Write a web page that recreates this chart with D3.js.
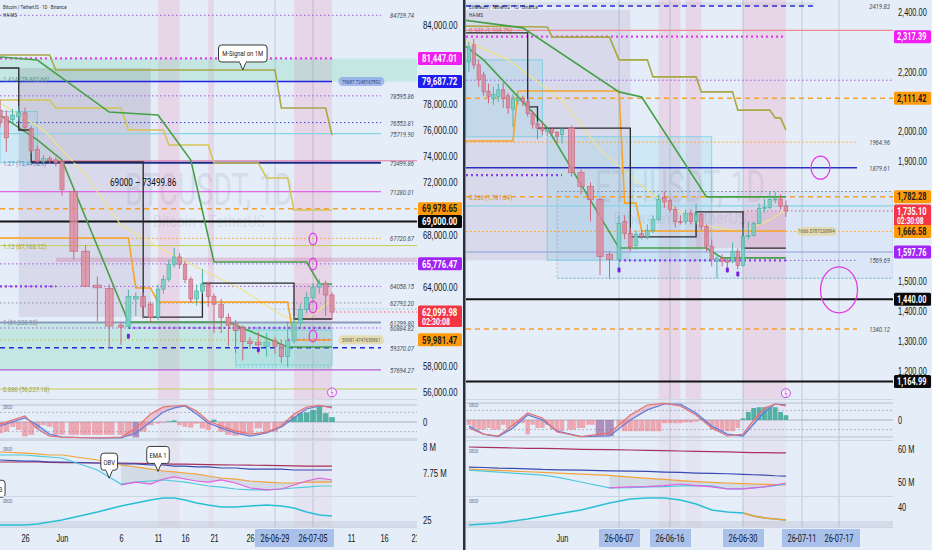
<!DOCTYPE html>
<html>
<head>
<meta charset="utf-8">
<title>BTCUSDT / ETHUSDT 1D</title>
<script src="https://cdn.jsdelivr.net/npm/d3@7"></script>
<style>
  body { margin: 0; background: #e4edf8; }
  svg { display: block; font-family: Roboto, "Noto Sans", sans-serif; }
</style>
</head>
<body>
<svg id="chart" width="932" height="550"></svg>
<script>
// ---------- BTCUSDT (left) ----------
// date, open, high, low, close
var btcCandles = [
  ["05-22", 77500, 78300, 76200, 76550], ["05-23", 77000, 77500, 74300, 75400],
  ["05-24", 76800, 77600, 76500, 77100], ["05-25", 77000, 77800, 76700, 77300],
  ["05-26", 77300, 77700, 76000, 76200], ["05-27", 76100, 76300, 74200, 74400],
  ["05-28", 74500, 74800, 73300, 73600], ["05-29", 73600, 74100, 73300, 73800],
  ["05-30", 73800, 74000, 73400, 73650], ["05-31", 73700, 73900, 73200, 73500],
  ["06-01", 73580, 73700, 71000, 71450], ["06-02", 71300, 71400, 66100, 66740],
  ["06-03", 66740, 67200, 64000, 64070], ["06-04", 64150, 64800, 61400, 63950],
  ["06-05", 63900, 64200, 59300, 61030], ["06-06", 61100, 61300, 59600, 60950],
  ["06-07", 61000, 63800, 60800, 63300], ["06-08", 63100, 63600, 61800, 63300],
  ["06-09", 63300, 63600, 61600, 62500], ["06-10", 62700, 62900, 61300, 61700],
  ["06-11", 61700, 64200, 61500, 63850], ["06-12", 63850, 64900, 63500, 64600],
  ["06-13", 64600, 66100, 64400, 65750], ["06-14", 65750, 67000, 65500, 66300],
  ["06-15", 66300, 66600, 65400, 65750], ["06-16", 65750, 66000, 64300, 64600],
  ["06-17", 64600, 64800, 62800, 63100], ["06-18", 63100, 64200, 62600, 63700],
  ["06-19", 63700, 65400, 63500, 64200], ["06-20", 64200, 64400, 62500, 63300],
  ["06-21", 63300, 63500, 60500, 62700], ["06-22", 62700, 63100, 60500, 61700],
  ["06-23", 61700, 62000, 59500, 61100], ["06-24", 61200, 61500, 59000, 60700],
  ["06-25", 60900, 61100, 58400, 59850], ["06-26", 59850, 60200, 59300, 59700],
  ["06-27", 59800, 60600, 58900, 59600], ["06-28", 59500, 60500, 58700, 59800],
  ["06-29", 59900, 60200, 58900, 59500], ["06-30", 59600, 60000, 58200, 58700],
  ["07-01", 58700, 61400, 57900, 59900], ["07-02", 59900, 61800, 59700, 61300],
  ["07-03", 61300, 62700, 61000, 62300], ["07-04", 62300, 63600, 62000, 63200],
  ["07-05", 63200, 64300, 62900, 64000], ["07-06", 64000, 64600, 63500, 64300],
  ["07-07", 64300, 64500, 61800, 63400], ["07-08", 63400, 63600, 61500, 62099.98]
];
var btcGreenA = [["05-22", 81560], ["05-28", 81330], ["06-05", 77360], ["06-11", 77130], ["06-17", 73700], ["06-21", 65920], ["07-04", 65920], ["07-06", 64240], ["07-08", 64240]];
var btcGreenB = [["05-22", 77130], ["05-28", 75230], ["06-01", 73700], ["06-07", 61340], ["06-23", 61340], ["07-01", 59430], ["07-08", 59430]];
var btcMsignal = [["05-22", 81710], ["05-30", 81710], ["05-31", 80570], ["06-29", 80570], ["06-30", 77670], ["07-07", 77670], ["07-08", 75600]];
var btcGold = [["05-22", 78280], ["05-30", 78280], ["05-31", 77670], ["06-06", 77670], ["06-07", 75990], ["06-12", 75990], ["06-13", 74840], ["06-20", 74840], ["06-21", 73470], ["06-27", 73470], ["06-28", 72330], ["07-01", 72330], ["07-02", 69880], ["07-08", 69880]];
var btcOrange = [["05-22", 67750], ["06-07", 67750], ["06-08", 63930], ["06-10", 63930], ["06-11", 62860], ["07-01", 62860], ["07-02", 59970], ["07-08", 59970]];
var btcHaMs = [["05-22", 80720], ["05-25", 80720], ["05-25", 75990], ["05-27", 75990], ["05-27", 73550], ["06-09", 73550], ["06-09", 61720], ["06-19", 61720], ["06-19", 64310], ["07-02", 64310], ["07-02", 61570], ["07-08", 61570]];
var btcEma = [["05-22", 78050], ["05-29", 75990], ["06-03", 72555], ["06-06", 68740], ["06-12", 66830], ["06-19", 65305], ["06-25", 63780], ["06-30", 61870], ["07-03", 61340], ["07-06", 62255], ["07-08", 63020]];
// value, kind, right label, from, to
var btcLevels = [
  [84739.74, "purpleDot", "84739.74", null, null], [81447.01, "magentaPlus", "", null, "07-08"],
  [79687.72, "blue", "", null, "07-08"], [78595.86, "purpleDot", "78595.86", null, null],
  [76553.81, "blueDot", "76553.81", null, null], [75719.90, "cyan", "75719.90", null, null],
  [73640, "pink", "", "05-27", null], [73499.86, "navy", "73499.86", "05-27", null],
  [71280.01, "magenta", "71280.01", null, null], [69978.65, "orangeDash", "", null, null],
  [69000.00, "black", "", null, null], [67720.67, "orangeDot", "67720.67", null, null],
  [67168.12, "olive", "", null, null], [65776.47, "purpleDot", "", null, null],
  [64058.15, "purpleDot", "64058.15", null, null], [64058.15, "purplePlus", "", null, "05-31"],
  [62793.20, "greyDot", "62793.20", null, null], [62330, "cyanDot", "", "06-29", null],
  [62099.98, "redDot", "", "07-08", null], [61299.80, "slate", "61299.80", null, null],
  [60884.82, "purpleDot", "60884.82", null, null], [60884.82, "purplePlus", "", "06-07", "07-08"],
  [59981.47, "oliveDot", "", null, "07-08"], [59981.47, "magentaPlus", "", "07-01", "07-08"],
  [59370.07, "navyDash", "59370.07", null, null], [57900, "cyanDot", "", "06-24", "07-08"],
  [57694.27, "purple", "57694.27", null, null], [56227.18, "olive", "", null, null]
];
var btcFibs = [["1.414 (79,902.66)", 79902.66, "teal"], ["1.27 (73,449.21)", 73449.21, "steel"], ["1.13 (67,168.12)", 67168.12, "olive"], ["1 (61,338.93)", 61338.93, "slate"], ["0.886 (56,227.18)", 56227.18, "olive"]];
var btcTags = [[81447.01, "magenta"], [79687.72, "blue"], [69978.65, "orange"], [69000.00, "black"], [65776.47, "purple"], [62099.98, "red", "02:30:08"], [59981.47, "orange"]];
var btcPills = [[79687.72, "79687.7248167892", "07-09", "blue"], [59981.47, "59981.4747659861", "07-09", "beige"]];
var btcBoxes = [
  ["05-25", "06-10", 80720, 61720, "mauve"], ["05-25", "06-10", 80720, 73550, "grey"],
  [null, null, 81447.01, 79687.72, "green"], [null, "07-08", 61339, 57677, "green"],
  ["06-24", "07-08", 60730, 58060, "cyan"], [null, "05-28", 77400, 73500, "cyan"],
  ["07-02", "07-08", 64310, 61570, "pink"], ["05-31", null, 66250, 65920, "pinkBar"]
];
var btcBands = [["06-11", "06-15"], ["06-20", "06-21"], ["07-02", "07-08"]];
var btcCircles = [["07-05", 67670, "small"], ["07-05", 65760, "small"], ["07-05", 62480, "small"], ["07-05", 60270, "small"]];
var btcMarks = [["06-07", 60250], ["06-27", 59250]];
var btcBolt = ["07-08", 55970];
var btcCallouts = [["M-Signal on 1M", "06-25", 80567]];
var btcRangeLabel = ["69000 – 73499.86", "06-09", 71720];
var btcTimeTicks = ["05-26", "06-01", "06-06", "06-11", "06-16", "06-21", "06-26", "07-11", "07-16", "07-21"];
var btcHighlights = [["06-29", "07-05"]];
// indicators
var btcIndDates = ["05-22", "05-26", "05-28", "05-30", "06-01", "06-04", "06-06", "06-08", "06-10", "06-12", "06-14", "06-16", "06-18", "06-20", "06-22", "06-24", "06-26", "06-28", "06-30", "07-02", "07-04", "07-06", "07-08"];
var btcMacdFast = [-0.13, 0.38, -0.44, -0.88, -0.94, -1.0, -0.94, -0.38, 0.5, 0.94, 1.0, 1.04, 0.69, 0.06, -0.25, -0.56, -0.75, -0.63, -0.25, 0.5, 0.94, 1.04, 0.88];
var btcMacdSlow = [-0.25, 0.25, -0.19, -0.75, -0.94, -1.0, -1.0, -0.69, 0.0, 0.63, 0.88, 1.0, 0.5, -0.06, -0.38, -0.69, -0.88, -0.69, -0.31, 0.25, 0.81, 1.0, 0.94];
var btcHist = [-0.7, -0.6, -0.3, -0.5, -0.9, -0.8, -0.4, -0.2, -0.3, -0.8,
  -0.8, -0.8, -0.8, -0.8, -0.8, -0.8, -0.9, -0.96, -0.6, -0.2,
  -0.1, -0.05, 0.05, 0.1, -0.2, -0.3, -0.35, -0.1, -0.4, -0.5,
  0.15, -0.6, -0.8, -0.85, -0.8, -0.7, -0.4, -0.6, -0.6, -0.3,
  0.1, 0.35, 0.55, 0.6, 0.75, 0.95, 0.55, 0.3];
var btcObvNavy = [7.875, 7.865, 7.865, 7.856, 7.856, 7.846, 7.837, 7.837, 7.827, 7.827, 7.817, 7.817, 7.808, 7.808, 7.798, 7.798, 7.788, 7.788, 7.788, 7.779, 7.779, 7.779, 7.779];
var btcObvMaroon = [7.856, 7.856, 7.856, 7.852, 7.85, 7.846, 7.846, 7.842, 7.84, 7.838, 7.836, 7.835, 7.833, 7.831, 7.829, 7.827, 7.825, 7.823, 7.821, 7.819, 7.817, 7.817, 7.817];
var btcObvOrange = [7.952, 7.942, 7.933, 7.923, 7.923, 7.875, 7.827, 7.808, 7.788, 7.769, 7.76, 7.75, 7.74, 7.721, 7.702, 7.692, 7.673, 7.663, 7.654, 7.654, 7.663, 7.663, 7.663];
var btcObvCyan = [7.923, 7.923, 7.913, 7.904, 7.894, 7.779, 7.644, 7.663, 7.673, 7.683, 7.673, 7.663, 7.644, 7.625, 7.615, 7.596, 7.587, 7.587, 7.596, 7.606, 7.615, 7.625, 7.625];
var btcObvMagenta = [7.635, 7.663, 7.644, 7.692, 7.712, 7.692, 7.673, 7.663, 7.683, 7.654, 7.606, 7.587, 7.596, 7.635, 7.673, 7.702, 7.683];
var btcLower = [23, 23, 23.4, 24.2, 25, 28.2, 30.6, 31.8, 33, 33.8, 33.8, 33, 31.8, 31, 30.2, 30.2, 30.6, 31, 30.6, 29.8, 28.2, 27, 26.6];
var btcIndCallouts = [["OBV", "06-05", 7.70], ["EMA 1", "06-11", 7.765], ["EMA 3", "05-21", 7.44]];

// ---------- ETHUSDT (right) ----------
var ethCandles = [
  ["05-13", 2233, 2300, 2200, 2283], ["05-14", 2290, 2310, 2210, 2223], ["05-15", 2223, 2240, 2150, 2173],
  ["05-16", 2190, 2200, 2120, 2133], ["05-17", 2135, 2160, 2095, 2118], ["05-18", 2110, 2150, 2090, 2125],
  ["05-19", 2118, 2160, 2100, 2140], ["05-20", 2140, 2165, 2080, 2110], ["05-21", 2120, 2130, 2060, 2080],
  ["05-22", 2075, 2125, 2015, 2110], ["05-23", 2105, 2125, 2090, 2112], ["05-24", 2112, 2120, 2085, 2100],
  ["05-25", 2100, 2110, 2050, 2060], ["05-26", 2060, 2070, 2010, 2025], ["05-27", 2025, 2035, 1975, 2012],
  ["05-28", 2012, 2030, 1990, 2005], ["05-29", 2000, 2015, 1985, 2008], ["05-30", 2008, 2012, 1990, 1998],
  ["05-31", 1998, 2003, 1960, 1985], ["06-01", 1990, 2015, 1960, 2008], ["06-02", 2013, 2020, 1850, 1863],
  ["06-03", 1863, 1875, 1790, 1817], ["06-04", 1817, 1830, 1700, 1773], ["06-05", 1773, 1780, 1520, 1583],
  ["06-06", 1590, 1600, 1507, 1573], ["06-07", 1573, 1720, 1540, 1693], ["06-08", 1700, 1720, 1640, 1660],
  ["06-09", 1660, 1680, 1600, 1615], ["06-10", 1620, 1670, 1605, 1657], ["06-11", 1660, 1672, 1640, 1650],
  ["06-12", 1650, 1690, 1640, 1670], ["06-13", 1670, 1720, 1660, 1707], ["06-14", 1707, 1790, 1700, 1773],
  ["06-15", 1780, 1800, 1745, 1765], ["06-16", 1770, 1780, 1730, 1740], ["06-17", 1740, 1750, 1680, 1700],
  ["06-18", 1700, 1720, 1690, 1697], ["06-19", 1700, 1740, 1690, 1727], ["06-20", 1727, 1740, 1690, 1700],
  ["06-21", 1700, 1760, 1690, 1723], ["06-22", 1723, 1730, 1670, 1683], ["06-23", 1683, 1690, 1600, 1617],
  ["06-24", 1617, 1640, 1550, 1573], ["06-25", 1567, 1590, 1510, 1577], ["06-26", 1577, 1590, 1550, 1567],
  ["06-27", 1570, 1580, 1545, 1563], ["06-28", 1567, 1630, 1560, 1600], ["06-29", 1600, 1610, 1540, 1553],
  ["06-30", 1553, 1680, 1550, 1650], ["07-01", 1650, 1700, 1640, 1653], ["07-02", 1653, 1700, 1650, 1693],
  ["07-03", 1693, 1760, 1690, 1743], ["07-04", 1743, 1775, 1730, 1747], ["07-05", 1747, 1800, 1740, 1773],
  ["07-06", 1773, 1800, 1760, 1775], ["07-07", 1775, 1790, 1740, 1750], ["07-08", 1752, 1770, 1715, 1735.10]
];
var ethGreenA = [["05-12", 2373], ["05-24", 2347], ["06-07", 2133], ["06-11", 2116], ["06-23", 1782], ["07-08", 1782]];
var ethGreenB = [["05-12", 2290], ["05-16", 2240], ["05-29", 2012], ["06-07", 1611], ["06-23", 1611], ["06-26", 1578], ["07-08", 1578]];
var ethMsignal = [["05-12", 2353], ["05-29", 2350], ["05-30", 2316], ["06-06", 2316], ["06-07", 2240], ["06-12", 2240], ["06-13", 2183], ["06-21", 2183], ["06-22", 2133], ["06-28", 2133], ["06-29", 2072], ["07-05", 2072], ["07-06", 2046], ["07-07", 2046], ["07-08", 2006]];
var ethOrange = [["05-12", 1969], ["05-22", 1969], ["05-23", 2136], ["06-07", 2136], ["06-08", 1761], ["06-10", 1761], ["06-11", 1668], ["07-08", 1668]];
var ethHaMs = [["05-12", 2330], ["05-25", 2330], ["05-25", 2083], ["05-27", 2083], ["05-27", 2012], ["06-09", 2012], ["06-09", 1648], ["06-21", 1648], ["06-21", 1732], ["06-30", 1732], ["06-30", 1611], ["07-08", 1611]];
var ethEma = [["05-12", 2306], ["05-21", 2240], ["06-01", 2106], ["06-05", 1939], ["06-13", 1788], ["06-22", 1688], ["06-30", 1665], ["07-05", 1705], ["07-08", 1738]];
var ethLevels = [
  [2419.83, "navyDash", "2419.83", null, "07-13"], [2338.79, "salmon", "", null, null],
  [2317.39, "magentaPlus", "", null, "07-08"], [2172, "purpleDot", "", null, null],
  [2111.42, "orangeDash", "", null, null], [1964.96, "orangeDot", "1964.96", null, null],
  [1879.61, "navyThin", "1879.61", null, null], [1855, "purplePlus", "", null, "06-01"],
  [1800, "greyDot", "", "05-31", null], [1782.28, "orangeDash", "", null, null],
  [1752, "cyan", "", null, null], [1735.10, "redDot", "", "06-30", null],
  [1666.58, "orangeDot", "", null, null], [1597.76, "lavender", "", null, null],
  [1569.69, "purpleDot", "1569.69", "07-08", null], [1569.69, "purplePlus", "", "06-07", "07-08"],
  [1510, "cyanDot", "", "05-31", null], [1440.00, "black", "", null, null],
  [1340.12, "orangeDash", "1340.12", null, null], [1164.99, "black", "", null, null]
];
var ethFibs = [["0.382 (2,338.79)", 2338.79, "salmon"], ["0.236 (1,781.84)", 1781.84, "amber"]];
var ethTags = [[2317.39, "magenta"], [2111.42, "orange"], [1782.28, "orange"], [1735.10, "red", "02:30:08"], [1666.58, "orange"], [1597.76, "purple"], [1440.00, "black"], [1164.99, "black"]];
var ethPills = [[1666.58, "1666.5787230894", "07-10", "beige"]];
var ethBoxes = [
  [null, "06-09", 2407, 1570, "mauve"], [null, "05-28", 2240, 1983, "cyan"],
  ["05-29", "06-24", 1983, 1570, "cyan"], ["05-31", null, 1800, 1510, "sky"],
  ["06-21", "07-08", 1732, 1611, "pink"], [null, "07-13", 2432, 2421, "grey"]
];
var ethBands = [["06-14", "06-18"], ["06-19", "06-22"], ["06-30", "07-08"]];
var ethCircles = [["07-14", 1879.61, "mid"], ["07-17", 1471, "big"]];
var ethMarks = [["06-07", 1538], ["06-27", 1538], ["06-29", 1524]];
var ethBolt = ["07-08", 1126];
var ethTimeTicks = ["06-01"];
var ethHighlights = [["06-07"], ["06-16"], ["06-30"], ["07-11", "07-17"]];
var ethIndDates = ["05-13", "05-16", "05-19", "05-22", "05-25", "05-28", "05-31", "06-03", "06-06", "06-09", "06-12", "06-15", "06-18", "06-21", "06-24", "06-27", "06-30", "07-02", "07-04", "07-06", "07-08"];
var ethMacdFast = [-0.5, -0.88, -1.0, -0.31, 0.44, 0.13, -0.75, -1.04, -0.81, 0.31, 0.94, 1.04, 0.88, 0.31, -0.5, -1.0, -0.88, 0, 0.75, 1.0, 0.88];
var ethMacdSlow = [-0.38, -0.88, -1.04, -0.5, 0.31, 0, -0.69, -1.04, -1.0, 0, 0.63, 1.0, 1.0, 0.44, -0.38, -0.88, -1.0, -0.25, 0.5, 1.0, 0.94];
var ethHist = [-0.3, -0.5, -0.6, -0.6, -0.5, -0.6, -0.6, -0.3, -0.5, -0.4, -0.2, -0.2, -0.9, -0.3, -0.5, -0.5, -0.3, -0.6, -0.7,
  -0.7, -0.6, -0.5, -0.3, -1.0, -1.0, -0.3, -0.7, -0.7, -0.7, -0.7, -0.7, -0.7, -0.7, -0.2, -0.2, -0.2, -0.2, -0.15, -0.15,
  -0.1, 0.05, -0.2, -0.6, -0.7, -0.7, -0.7, -0.7, -0.5, 0.1,
  0.5, 0.75, 0.8, 0.8, 0.8, 0.8, 0.5, 0.3];
var ethObvMaroon = [60.6, 60.5, 60.4, 60.3, 60.2, 60.2, 60.1, 59.9, 59.8, 59.7, 59.6, 59.5, 59.4, 59.3, 59.2, 59.1, 59.0, 58.9, 58.9, 58.8, 58.8];
var ethObvNavy = [54.5, 54.4, 54.2, 54.1, 54.0, 53.8, 53.7, 53.6, 53.4, 53.3, 53.2, 53.0, 52.9, 52.7, 52.6, 52.5, 52.3, 52.2, 52.1, 51.9, 51.8];
var ethObvOrange = [53.9, 53.7, 53.5, 53.3, 53.1, 52.9, 52.7, 52.4, 52.0, 51.5, 51.1, 50.8, 50.4, 50.1, 49.9, 49.7, 49.5, 49.4, 49.3, 49.2, 49.1];
var ethObvCyan = [53.6, 53.3, 53.0, 52.7, 52.4, 52.1, 51.5, 50.0, 48.2, 48.3, 48.5, 48.6, 48.8, 48.9, 48.8, 47.9, 47.9, 48.2, 48.5, 48.9, 49.4];
var ethObvMagenta = [48.2, 48.5, 48.6, 48.9, 49.4, 48.9, 48.5, 47.9, 47.9, 48.2, 48.5, 49.1, 49.7];
var ethLower = [32.8, 33.2, 33.6, 34.4, 35.2, 36.2, 37.2, 38.8, 41.6, 43.2, 43.6, 43.6, 42.8, 41.2, 38.8, 38.0, 37.6, 36.4, 35.6, 35.2, 34.8];

// ---------- styles ----------
var lineKinds = {
  purpleDot: { c: "#9a5fd8", w: 1, d: "1.5,2.5" }, purplePlus: { c: "#8e3ff0", w: 2.2, d: "2,3" },
  magentaPlus: { c: "#e23ef0", w: 2.2, d: "2,3" }, blue: { c: "#2323e8", w: 1.6 },
  blueDot: { c: "#3347c8", w: 1, d: "1.5,2.5" }, cyan: { c: "#86d4e4", w: 1.2 },
  cyanDot: { c: "#6ccbdc", w: 1, d: "1.5,2.5" }, navy: { c: "#1f2b8a", w: 2 },
  navyThin: { c: "#2633c0", w: 1.4 }, magenta: { c: "#e045e8", w: 1 }, pink: { c: "#e77aa5", w: 1 },
  orangeDash: { c: "#f6a02d", w: 1.5, d: "5,4" }, orangeDot: { c: "#f6a02d", w: 1, d: "1.5,2.5" },
  black: { c: "#131313", w: 2 }, olive: { c: "#c7cc55", w: 1 }, oliveDot: { c: "#b8bb50", w: 1, d: "1.5,2.5" },
  greyDot: { c: "#8a8f99", w: 1, d: "1.5,2.5" }, redDot: { c: "#e85a6a", w: 1, d: "1.5,2.5" },
  slate: { c: "#8c9cbc", w: 2 }, navyDash: { c: "#2a2ad6", w: 1.5, d: "5,4" },
  purple: { c: "#b45fd2", w: 1.2 }, salmon: { c: "#ef8a8f", w: 1.2 }, lavender: { c: "#8f9ad8", w: 1 },
  green: { c: "#45a047", w: 1.6 }, msignal: { c: "#a8a845", w: 1.6 }, gold: { c: "#d3c456", w: 1.5 },
  orange: { c: "#f5a42c", w: 1.6 }, ha: { c: "#2a2a2a", w: 1.3 }, ema: { c: "#efe38a", w: 1.2 }
};
var boxKinds = {
  mauve: { fill: "rgba(150,105,155,0.15)" }, grey: { fill: "rgba(120,120,140,0.12)" },
  green: { fill: "rgba(110,215,165,0.26)" }, cyan: { fill: "rgba(120,215,235,0.2)", stroke: "rgba(80,200,220,0.6)" },
  pink: { fill: "rgba(215,120,165,0.2)" }, pinkBar: { fill: "rgba(205,120,160,0.35)" },
  sky: { fill: "rgba(150,190,240,0.1)", stroke: "rgba(120,140,170,0.5)", dash: "2,2" }
};
var fibColors = { teal: "#4e9b94", steel: "#5b8fb5", olive: "#a4a436", slate: "#7b8aa5", salmon: "#e0606f", amber: "#d48b1c" };
var tagKinds = {
  magenta: ["#f01ef0", "#fff"], blue: ["#1d1df0", "#fff"], orange: ["#ff9a0a", "#1a1a1a"],
  black: ["#0b0b0b", "#fff"], purple: ["#a124f5", "#fff"], red: ["#f23645", "#fff"]
};
var pillKinds = { blue: ["rgba(120,150,235,0.6)", "#33407a"], beige: ["rgba(225,215,160,0.75)", "#6a6040"] };
var ellipseKinds = { small: [3.8, 5.8], mid: [9.5, 11.5], big: [18.5, 23] };

// ---------- drawing ----------
var parse = function (s) { return d3.timeParse("%Y-%m-%d")("2026-" + s); };
var svg = d3.select("#chart");
svg.append("rect").attr("width", 932).attr("height", 550).attr("fill", "#e4edf8");
var defs = svg.append("defs");

function styleLine(sel, kind) {
  var s = lineKinds[kind];
  sel.attr("stroke", s.c).attr("stroke-width", s.w).attr("fill", "none");
  if (s.d) sel.attr("stroke-dasharray", s.d);
  return sel;
}

function callout(g, tx, ty, text) {
  var w = text.length * 2.9 + 8, h = 17, bx = tx - w / 2, by = ty - 8 - h;
  g.append("path").attr("d", "M" + (tx - 3.5) + "," + (by + h - 0.5) + "L" + tx + "," + ty + "L" + (tx + 3.5) + "," + (by + h - 0.5))
    .attr("fill", "#fff").attr("stroke", "#3a3a3a");
  g.append("rect").attr("x", bx).attr("y", by).attr("width", w).attr("height", h).attr("rx", 3)
    .attr("fill", "#fff").attr("stroke", "#3a3a3a");
  g.append("rect").attr("x", tx - 3).attr("y", by + h - 1.5).attr("width", 6).attr("height", 2.5).attr("fill", "#fff");
  g.append("text").attr("x", tx).attr("y", by + 11.5).attr("text-anchor", "middle").attr("font-size", 8)
    .attr("fill", "#222").text(text);
}

function drawPanel(p) {
  var x = d3.scaleTime().domain(p.knots.map(parse)).range(p.knotPx);
  var y = d3.scaleLinear().domain(p.priceDomain).range(p.priceRange);
  var X = function (s) { return x(parse(s)); };
  var L = p.left, R = p.plotRight, aw = p.axisRight - p.plotRight;
  ["All", "Main"].forEach(function (n, i) {
    defs.append("clipPath").attr("id", p.id + n).append("rect")
      .attr("x", L).attr("y", 0).attr("width", R - L).attr("height", i ? 399 : 528);
  });
  var back = svg.append("g").attr("clip-path", "url(#" + p.id + "All)");
  var main = svg.append("g").attr("clip-path", "url(#" + p.id + "Main)");

  // session bands and range guides
  p.bands.forEach(function (b) {
    var xa = X(b[0]), xb = X(b[1]);
    back.append("rect").attr("x", xa).attr("width", xb - xa).attr("y", 0).attr("height", 399).attr("fill", "rgba(236,150,185,0.26)");
    back.append("rect").attr("x", xa).attr("width", xb - xa).attr("y", 399).attr("height", 129).attr("fill", "rgba(236,150,185,0.1)");
  });
  p.highlights.forEach(function (h) {
    h.forEach(function (s) {
      back.append("line").attr("x1", X(s)).attr("x2", X(s)).attr("y1", 0).attr("y2", 528)
        .attr("stroke", "rgba(110,120,140,0.3)");
    });
  });

  // zones
  p.boxes.forEach(function (b) {
    var st = boxKinds[b[4]];
    var xa = b[0] ? X(b[0]) : L, xb = b[1] ? X(b[1]) : R;
    var top = Math.min(y(b[2]), y(b[3])), bot = Math.max(y(b[2]), y(b[3]));
    var r = main.append("rect").attr("x", xa).attr("width", xb - xa).attr("y", top).attr("height", bot - top).attr("fill", st.fill);
    if (st.stroke) r.attr("stroke", st.stroke).attr("stroke-dasharray", st.dash || null);
  });

  // watermark (its width is fitted later)
  main.append("text").attr("x", p.wm.x).attr("y", p.wm.y).attr("text-anchor", "middle")
    .attr("font-size", 44).attr("fill", "rgba(105,115,150,0.15)").attr("data-fit", p.wm.w).text(p.wm.title);
  main.append("text").attr("x", p.wm.x).attr("y", p.wm.y + 22).attr("text-anchor", "middle")
    .attr("font-size", 16).attr("fill", "rgba(105,115,150,0.15)").attr("data-fit", p.wm.sw).text(p.wm.sub);

  // horizontal levels
  p.levels.forEach(function (lv) {
    var xa = lv[3] ? X(lv[3]) : L;
    var xb = lv[4] ? X(lv[4]) : (lv[2] ? R - 36 : R);
    styleLine(main.append("line").attr("x1", xa).attr("x2", xb).attr("y1", y(lv[0])).attr("y2", y(lv[0])), lv[1]);
    if (lv[2]) {
      main.append("text").attr("x", R - 3).attr("y", y(lv[0]) + 3).attr("text-anchor", "end")
        .attr("font-size", 8).attr("font-style", "italic").attr("fill", "#4a4f5a").text(lv[2]);
    }
  });
  p.fibs.forEach(function (f) {
    main.append("text").attr("x", L + 3).attr("y", y(f[1]) + 3).attr("font-size", 8)
      .attr("fill", fibColors[f[2]]).text(f[0]);
  });

  // indicator step lines
  var line = d3.line().x(function (d) { return X(d[0]); }).y(function (d) { return y(d[1]); });
  p.series.forEach(function (s) { styleLine(main.append("path").attr("d", line(s[0])), s[1]); });

  // candles
  var cx = p.candles.map(function (c) { return X(c[0]); });
  var gap = cx.map(function (v, i) {
    var a = i > 0 ? v - cx[i - 1] : cx[1] - cx[0];
    var b = i < cx.length - 1 ? cx[i + 1] - v : a;
    return Math.min(a, b);
  });
  var cw = gap.map(function (g) { return Math.max(2.4, g * 0.66); });
  p.candles.forEach(function (c, i) {
    var up = c[4] >= c[1];
    var stroke = up ? "#4fb3a6" : "#c8697e", fill = up ? "rgba(125,208,196,0.8)" : "rgba(222,138,158,0.78)";
    main.append("line").attr("x1", cx[i]).attr("x2", cx[i]).attr("y1", y(c[2])).attr("y2", y(c[3])).attr("stroke", stroke);
    var t = y(Math.max(c[1], c[4])), h = Math.max(1, Math.abs(y(c[1]) - y(c[4])));
    main.append("rect").attr("x", cx[i] - cw[i] / 2).attr("y", t).attr("width", cw[i]).attr("height", h)
      .attr("fill", fill).attr("stroke", stroke).attr("stroke-width", 0.7);
  });

  // marks, circles, pills, callouts
  p.marks.forEach(function (m) {
    main.append("rect").attr("x", X(m[0]) - 1.5).attr("y", y(m[1]) - 2.5).attr("width", 3).attr("height", 5)
      .attr("rx", 1).attr("fill", "#7b1fe0");
  });
  p.circles.forEach(function (c) {
    var e = ellipseKinds[c[2]];
    main.append("ellipse").attr("cx", X(c[0])).attr("cy", y(c[1])).attr("rx", e[0]).attr("ry", e[1])
      .attr("fill", "none").attr("stroke", "#e040e0").attr("stroke-width", 1.3);
  });
  main.append("circle").attr("cx", X(p.bolt[0])).attr("cy", y(p.bolt[1])).attr("r", 4.5)
    .attr("fill", "#f6eefa").attr("stroke", "#c050e0");
  main.append("text").attr("x", X(p.bolt[0])).attr("y", y(p.bolt[1]) + 3).attr("text-anchor", "middle")
    .attr("font-size", 7).attr("fill", "#c050e0").text("ϟ");
  p.pills.forEach(function (pl) {
    var k = pillKinds[pl[3]], px = X(pl[2]), py = y(pl[0]);
    main.append("rect").attr("x", px).attr("y", py - 4.5).attr("width", p.pillW).attr("height", 9).attr("rx", 4.5).attr("fill", k[0]);
    main.append("text").attr("x", px + p.pillW / 2).attr("y", py + 2).attr("text-anchor", "middle")
      .attr("font-size", 6).attr("fill", k[1]).text(pl[1]);
  });
  if (p.rangeLabel) {
    main.append("text").attr("x", X(p.rangeLabel[1])).attr("y", y(p.rangeLabel[2])).attr("text-anchor", "middle")
      .attr("font-size", 11).attr("fill", "#111").text(p.rangeLabel[0]);
  }
  p.callouts.forEach(function (c) { callout(main, X(c[1]), y(c[2]), c[0]); });
  main.append("text").attr("x", L + 3).attr("y", 9).attr("font-size", 6).attr("fill", "#2a2e39").text(p.header);
  main.append("text").attr("x", L + 3).attr("y", 17).attr("font-size", 6).attr("fill", "#2a2e39").text("HA-MS");

  // ----- lower panes -----
  var ind = svg.append("g").attr("clip-path", "url(#" + p.id + "All)");
  var dts = p.indDates.map(parse);
  var my = d3.scaleLinear().domain([-1, 1]).range(p.macdRange);
  [1.06, -1.06].forEach(function (v) {
    ind.append("line").attr("x1", L).attr("x2", R).attr("y1", my(v)).attr("y2", my(v)).attr("stroke", "#b9c3d1");
  });
  [0.6, -0.6].forEach(function (v) {
    ind.append("line").attr("x1", L).attr("x2", R).attr("y1", my(v)).attr("y2", my(v))
      .attr("stroke", "#9aa3b3").attr("stroke-dasharray", "2,2").attr("stroke-width", 0.7);
  });
  ind.append("line").attr("x1", L).attr("x2", R).attr("y1", my(0)).attr("y2", my(0)).attr("stroke", "#a9b1c1");
  p.hist.forEach(function (v, i) {
    var col = v >= 0 ? "rgba(38,160,140,0.75)" : (v <= -0.95 ? "rgba(140,80,150,0.6)" : "rgba(240,110,120,0.55)");
    var w = gap[i] * 0.9;
    ind.append("rect").attr("x", cx[i] - w / 2).attr("width", w)
      .attr("y", Math.min(my(0), my(v))).attr("height", Math.abs(my(v) - my(0))).attr("fill", col);
  });
  for (var i = 0; i < dts.length - 1; i++) {
    var f0 = p.macdFast[i], f1 = p.macdFast[i + 1], s0 = p.macdSlow[i], s1 = p.macdSlow[i + 1];
    var col = (f0 + f1) >= (s0 + s1) ? "rgba(235,120,140,0.35)" : "rgba(90,130,235,0.35)";
    ind.append("path").attr("fill", col).attr("d", "M" + x(dts[i]) + "," + my(f0) + "L" + x(dts[i + 1]) + "," + my(f1) +
      "L" + x(dts[i + 1]) + "," + my(s1) + "L" + x(dts[i]) + "," + my(s0) + "Z");
  }
  var pl = function (sc) {
    return d3.line().x(function (d) { return x(d[0]); }).y(function (d) { return sc(d[1]); });
  };
  var zipD = function (vals, from) { return vals.map(function (v, j) { return [dts[j + (from || 0)], v]; }); };
  ind.append("path").attr("d", pl(my)(zipD(p.macdSlow))).attr("fill", "none").attr("stroke", "#5b7fe0").attr("stroke-width", 1.2);
  ind.append("path").attr("d", pl(my)(zipD(p.macdFast))).attr("fill", "none").attr("stroke", "#e57373").attr("stroke-width", 1.2);

  var oy = d3.scaleLinear().domain(p.obvDomain).range(p.obvRange);
  var ms = dts.length - p.obvMagenta.length;
  var cloud = d3.area().x(function (d) { return x(d[0]); }).y0(function (d) { return oy(d[1]); }).y1(function (d) { return oy(d[2]); });
  ind.append("path").attr("fill", "rgba(150,155,170,0.22)")
    .attr("d", cloud(p.obvMagenta.map(function (v, j) { return [dts[j + ms], v, p.obvOrange[j + ms]]; })));
  [[p.obvMaroon, "#a8325e"], [p.obvNavy, "#3a49b0"], [p.obvOrange, "#f2a33a"], [p.obvCyan, "#4fc9dc"]].forEach(function (s) {
    ind.append("path").attr("d", pl(oy)(zipD(s[0]))).attr("fill", "none").attr("stroke", s[1]).attr("stroke-width", 1.2);
  });
  ind.append("path").attr("d", pl(oy)(zipD(p.obvMagenta, ms))).attr("fill", "none").attr("stroke", "#e060e0").attr("stroke-width", 1.2);

  var ly = d3.scaleLinear().domain(p.lowDomain).range(p.lowRange);
  ind.append("rect").attr("x", L).attr("width", R - L).attr("y", 521).attr("height", 6).attr("fill", "rgba(160,170,185,0.25)");
  ind.append("path").attr("d", pl(ly)(zipD(p.lower))).attr("fill", "none").attr("stroke", "#2bbfd6").attr("stroke-width", 1.6);
  if (p.lowerOrangeFrom) {
    ind.append("path").attr("d", pl(ly)(zipD(p.lower.slice(p.lowerOrangeFrom), p.lowerOrangeFrom)))
      .attr("fill", "none").attr("stroke", "#f2a33a").attr("stroke-width", 1.6);
  }
  [p.macdRange[1] + 3, p.obvRange[1] + 4, 503].forEach(function (yy) {
    ind.append("text").attr("x", L + 3).attr("y", yy).attr("font-size", 5).attr("fill", "#6a7080").text("SBOD");
  });
  p.indCallouts.forEach(function (c) { callout(ind, X(c[1]), oy(c[2]), c[0]); });

  // pane separators
  [399.5, 440.5, 496.5, 527.5].forEach(function (yy) {
    svg.append("line").attr("x1", L).attr("x2", p.axisRight).attr("y1", yy).attr("y2", yy).attr("stroke", "#cdd6e2");
  });

  // ----- time axis -----
  var tg = svg.append("g").attr("transform", "translate(0,532)");
  tg.call(d3.axisBottom(x).tickValues(p.timeTicks.map(parse)).tickSize(0).tickPadding(3)
    .tickFormat(function (d) { return d.getDate() === 1 ? d3.timeFormat("%b")(d) : d3.timeFormat("%-d")(d); }));
  tg.select(".domain").remove();
  tg.selectAll("text").attr("font-size", 10).attr("fill", "#131722");
  p.highlights.forEach(function (h) {
    var xa = X(h[0]) - 20, xb = X(h[h.length - 1]) + 21;
    svg.append("rect").attr("x", xa).attr("y", 529).attr("width", xb - xa).attr("height", 18).attr("fill", "#a9c0ea");
    h.forEach(function (s) {
      svg.append("text").attr("x", X(s)).attr("y", 542).attr("text-anchor", "middle").attr("font-size", 10)
        .attr("fill", "#131722").text(d3.timeFormat("%y-%m-%d")(parse(s)));
    });
  });

  // ----- price axis -----
  var ax = svg.append("g").attr("transform", "translate(" + R + ",0)");
  ax.append("rect").attr("width", aw).attr("height", 550).attr("fill", "#e4edf8");
  var fmt = d3.format(",.2f");
  var tagY = p.tags.map(function (t) { return y(t[0]); });
  // tick labels that sit under a price tag are hidden, as on the screen
  var visible = p.priceTicks.filter(function (v) {
    return tagY.every(function (ty) { return Math.abs(ty - y(v)) >= 7.5; });
  });
  var axes = [
    [y, visible, fmt],
    [my, [0], d3.format("d")],
    [oy, p.obvTicks, function (d) { return d3.format("~g")(d) + " M"; }],
    [ly, p.lowTicks, d3.format("d")]
  ];
  axes.forEach(function (a) {
    var g = ax.append("g").call(d3.axisRight(a[0]).tickValues(a[1]).tickFormat(a[2]).tickSize(0).tickPadding(p.axisPad));
    g.select(".domain").remove();
    g.selectAll("text").attr("font-size", p.axisFont).attr("fill", "#131722");
  });
  p.tags.forEach(function (t) {
    var k = tagKinds[t[1]], h = t[2] ? 21.5 : 13, ty = y(t[0]) - 6.5;
    ax.append("rect").attr("x", 1).attr("y", ty).attr("width", aw - 2).attr("height", h).attr("rx", 1.5).attr("fill", k[0]);
    ax.append("text").attr("x", p.axisPad - 1).attr("y", ty + 10.2).attr("font-size", p.axisFont).attr("font-weight", 700)
      .attr("fill", k[1]).text(fmt(t[0]));
    if (t[2]) {
      ax.append("text").attr("x", p.axisPad - 1).attr("y", ty + 19.5).attr("font-size", p.axisFont - 1).attr("font-weight", 700)
        .attr("fill", k[1]).text(t[2]);
    }
  });
}

drawPanel({
  id: "btc", left: 0, plotRight: 417, axisRight: 463, axisPad: 6, axisFont: 10.5,
  knots: ["05-20", "05-26", "06-01", "06-06", "06-11", "06-16", "06-21", "06-26", "06-29", "07-05", "07-11", "07-16", "07-21"],
  knotPx: [-12.4, 25, 62, 121, 158, 185, 214, 250, 275, 313, 351, 384, 415],
  priceDomain: [56000, 84000], priceRange: [392, 25], priceTicks: d3.range(56000, 84001, 2000),
  candles: btcCandles, levels: btcLevels, fibs: btcFibs, tags: btcTags, pills: btcPills, pillW: 46,
  boxes: btcBoxes, bands: btcBands, circles: btcCircles, marks: btcMarks, bolt: btcBolt,
  callouts: btcCallouts, rangeLabel: btcRangeLabel,
  series: [[btcEma, "ema"], [btcGold, "gold"], [btcMsignal, "msignal"], [btcOrange, "orange"],
    [btcGreenA, "green"], [btcGreenB, "green"], [btcHaMs, "ha"]],
  header: "Bitcoin / TetherUS · 1D · Binance",
  wm: { x: 209, y: 205, w: 168, title: "BTCUSDT, 1D", sub: "Bitcoin / TetherUS", sw: 112 },
  timeTicks: btcTimeTicks, highlights: btcHighlights,
  indDates: btcIndDates, macdFast: btcMacdFast, macdSlow: btcMacdSlow, hist: btcHist, macdRange: [438, 406],
  obvMaroon: btcObvMaroon, obvNavy: btcObvNavy, obvOrange: btcObvOrange, obvCyan: btcObvCyan, obvMagenta: btcObvMagenta,
  obvDomain: [7.75, 8], obvRange: [473, 447], obvTicks: [7.75, 8],
  lower: btcLower, lowDomain: [25, 35], lowRange: [520, 495], lowTicks: [25],
  indCallouts: btcIndCallouts
});

drawPanel({
  id: "eth", left: 466, plotRight: 893, axisRight: 932, axisPad: 5, axisFont: 10,
  knots: ["05-12", "06-01", "06-07", "06-16", "06-30", "07-11", "07-17"],
  knotPx: [464, 562, 619, 670, 743, 802, 839],
  priceDomain: [1200, 2400], priceRange: [371, 12], priceTicks: d3.range(1200, 2401, 100),
  candles: ethCandles, levels: ethLevels, fibs: ethFibs, tags: ethTags, pills: ethPills, pillW: 40,
  boxes: ethBoxes, bands: ethBands, circles: ethCircles, marks: ethMarks, bolt: ethBolt,
  callouts: [], rangeLabel: null,
  series: [[ethEma, "ema"], [ethMsignal, "msignal"], [ethOrange, "orange"],
    [ethGreenA, "green"], [ethGreenB, "green"], [ethHaMs, "ha"]],
  header: "Ethereum / TetherUS · 1D · Binance",
  wm: { x: 680, y: 202, w: 170, title: "ETHUSDT, 1D", sub: "Ethereum / TetherUS", sw: 133 },
  timeTicks: ethTimeTicks, highlights: ethHighlights,
  indDates: ethIndDates, macdFast: ethMacdFast, macdSlow: ethMacdSlow, hist: ethHist, macdRange: [436, 404],
  obvMaroon: ethObvMaroon, obvNavy: ethObvNavy, obvOrange: ethObvOrange, obvCyan: ethObvCyan, obvMagenta: ethObvMagenta,
  obvDomain: [50, 60], obvRange: [482, 449], obvTicks: [50, 60],
  lower: ethLower, lowDomain: [30, 40], lowRange: [532, 507], lowTicks: [40], lowerOrangeFrom: 16,
  indCallouts: []
});

// divider between the two charts
svg.append("rect").attr("x", 463).attr("y", 0).attr("width", 2.5).attr("height", 550).attr("fill", "#2b2f3a");

// the screenshot is squeezed horizontally: narrow every text around its anchor
svg.selectAll("text").each(function () {
  var x0 = +this.getAttribute("x") || 0;
  var fit = this.getAttribute("data-fit");
  var k = fit ? +fit / this.getComputedTextLength() : 0.74;
  d3.select(this).attr("transform", "translate(" + x0 + ",0) scale(" + k + ",1) translate(" + (-x0) + ",0)");
});
</script>
</body>
</html>
